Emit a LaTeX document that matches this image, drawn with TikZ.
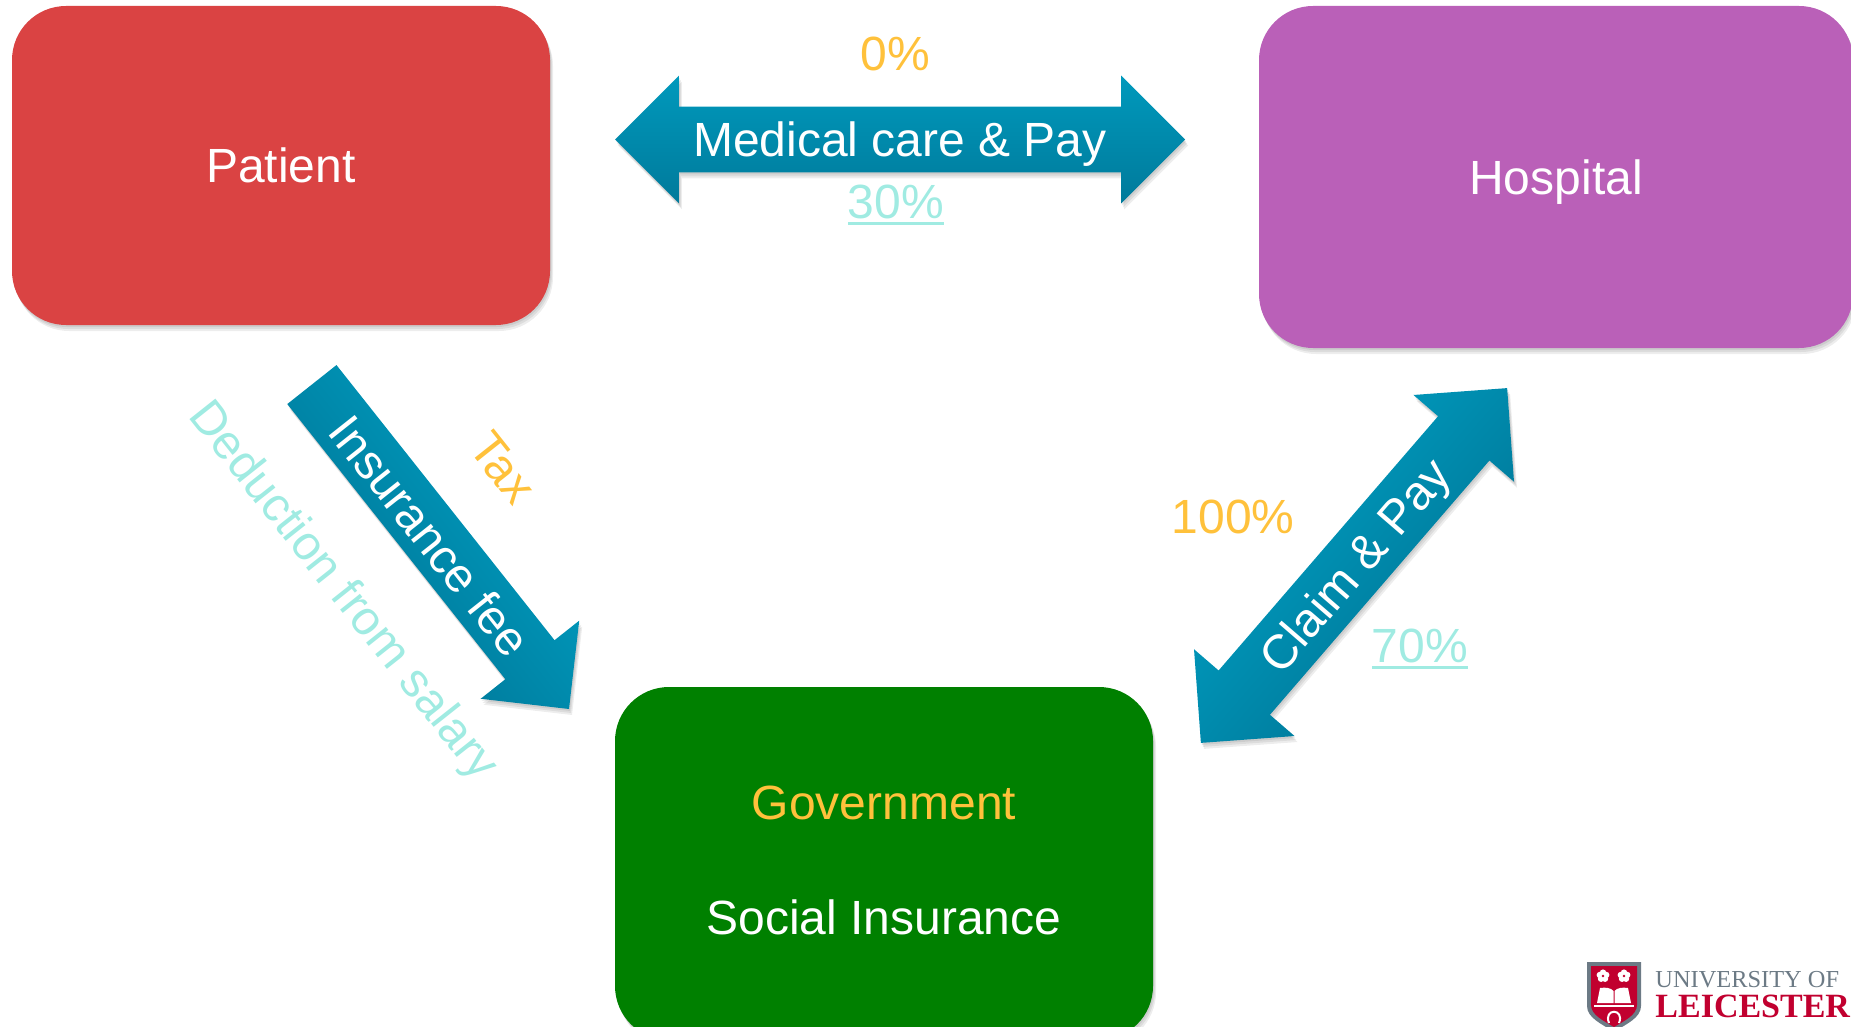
\documentclass[tikz,border=0pt]{standalone}
\usepackage{fontspec}
\setmainfont{Liberation Sans}
\newfontfamily\logofont{Liberation Serif}
\newcommand{\pctline}[1]{\vtop{\hbox{#1}\kern1.6pt\hrule height 1.3pt}}
\usetikzlibrary{shapes.arrows,shadows}
\definecolor{patientred}{HTML}{DA4343}
\definecolor{hospitalpurple}{HTML}{BA60B8}
\definecolor{govgreen}{HTML}{008000}
\definecolor{taxorange}{HTML}{FFC13B}
\definecolor{payteal}{HTML}{A0EBE2}
\definecolor{arrowtop}{HTML}{0099BC}
\definecolor{arrowbottom}{HTML}{007A9B}
\definecolor{logogrey}{HTML}{6C7A85}
\definecolor{logored}{HTML}{C1002F}
\pgfdeclareverticalshading{acrossshade}{100bp}{color(0bp)=(arrowbottom); color(35bp)=(arrowbottom); color(65bp)=(arrowtop); color(100bp)=(arrowtop)}
\begin{document}
\begin{tikzpicture}
[x=0.5pt, y=-0.5pt,
softshadow/.style={general shadow={fill=black,opacity=.07,shadow xshift=0.5pt,shadow yshift=-1pt},
  general shadow={fill=black,opacity=.07,shadow xshift=1pt,shadow yshift=-2pt},
  general shadow={fill=black,opacity=.07,shadow xshift=1.5pt,shadow yshift=-3pt}},
box/.style={rounded corners=27pt, text=white, softshadow, inner sep=0pt, outer sep=0pt},
label/.style={font=\fontsize{24}{28}\selectfont, inner sep=0pt},
block/.style={softshadow, inner xsep=0pt, outer sep=0pt},
both/.style={block, shape=double arrow, double arrow tip angle=90},
one/.style={block, shape=single arrow, single arrow tip angle=90},
across/.style={shade, shading=acrossshade, shading angle=#1}]
\useasboundingbox (0,0) rectangle (1851,1027);
\clip (0,0) rectangle (1851,1027);
% boxes
\node[box, label, fill=patientred, minimum width=269pt, minimum height=159.5pt] (patient) at (281,165.5) {Patient};
\node[box, label, text depth=0pt, fill=hospitalpurple, minimum width=297pt, minimum height=171pt] (hospital) at (1556,177) {Hospital};
\node[box, fill=govgreen, minimum width=269pt, minimum height=176.5pt] (government) at (884,863.5) {};
\node[label, text=taxorange] (govname) at (884,803) {Government};
\node[label, text=white] (social) at (884,917) {Social Insurance};
% arrows
\node[both, top color=arrowtop, bottom color=arrowbottom, minimum height=285pt, inner ysep=16.25pt, double arrow head extend=15.5pt] (medical) at (900,139.5) {};
\node[label, text=white] (medicaltext) at (900,144) {Medical care \& Pay};
\node[one, across=-51.6, rotate=-51.6, anchor=tip, minimum height=207pt, inner ysep=15.5pt, single arrow head extend=15.75pt] (insurance) at (569,709) {};
\node[label, text=white, rotate=-51.6] (insurancetext) at (430,536) {Insurance fee};
\node[both, across=49.2, rotate=49.2, minimum height=234.35pt, inner ysep=16.75pt, double arrow head extend=16.25pt] (claim) at (1354,565.5) {};
\node[label, text=white, rotate=49.2] (claimtext) at (1358,568) {Claim \& Pay};
% percentages
\node[label, text=taxorange] (zero) at (895,54) {0\%};
\node[label, text=payteal] (thirty) at (896,205) {\pctline{30\%}};
\node[label, text=taxorange] (hundred) at (1233,517) {100\%};
\node[label, text=payteal] (seventy) at (1420,649) {\pctline{70\%}};
\node[label, text=taxorange, rotate=-51.6] (tax) at (503,468) {Tax};
\node[label, text=payteal, rotate=-51.6] (deduction) at (342,592) {Deduction from salary};
% logo
\fill[logogrey] (1587,962) -- (1641,962) -- (1641,1006) .. controls (1641,1018) and (1626,1024) .. (1614,1032) .. controls (1602,1024) and (1587,1018) .. (1587,1006) -- cycle;
\fill[logored] (1591,966) -- (1637,966) -- (1637,1005) .. controls (1637,1015) and (1624,1021) .. (1614,1027) .. controls (1604,1021) and (1591,1015) .. (1591,1005) -- cycle;
\foreach \fx in {1603,1624} {
  \foreach \fa in {90,162,234,306,18}
    \fill[white] (\fx,976) ++(\fa:3.4 and -3.4) circle (3.2);
  \fill[logored] (\fx,976) circle (1.4);
}
\fill[white] (1597,1003) -- (1600,988) .. controls (1606,987) and (1611,988) .. (1613.5,991) -- (1613.5,1003) -- cycle;
\fill[white] (1631,1003) -- (1628,988) .. controls (1622,987) and (1617,988) .. (1614.5,991) -- (1614.5,1003) -- cycle;
\draw[white, line width=0.6pt] (1594,1006) -- (1634,1006);
\draw[white, line width=1pt] (1609,1023) .. controls (1603,1008) and (1625,1008) .. (1619,1023);
\node[font=\logofont\fontsize{12.2}{14}\selectfont, text=logogrey, anchor=west, inner sep=0pt] (logotop) at (1655,980) {UNIVERSITY OF};
\node[font=\logofont\bfseries\fontsize{17}{20}\selectfont, text=logored, anchor=west, inner sep=0pt] (logoname) at (1655,1006) {LEICESTER};
\end{tikzpicture}
\end{document}
